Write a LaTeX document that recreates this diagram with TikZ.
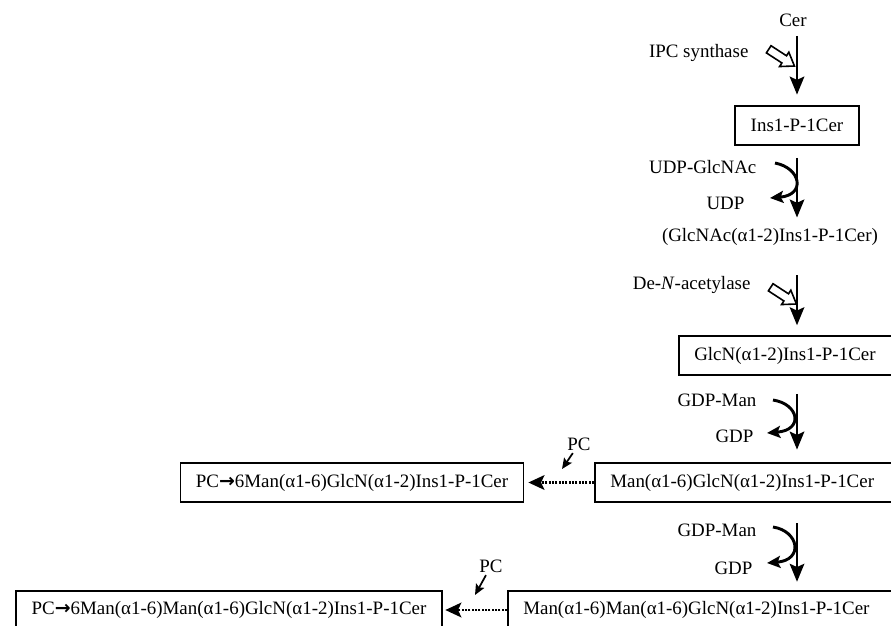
\documentclass[tikz,border=0pt]{standalone}
\usepackage{fontspec}
\setmainfont{Liberation Serif}
\newfontfamily\arrowfont{DejaVu Sans}
\usetikzlibrary{arrows.meta, shapes.arrows, calc}

\begin{document}
\begin{tikzpicture}
[x=0.75pt, y=-0.75pt,
every node/.style={font=\fontsize{14.2pt}{17pt}\selectfont},
cmpd/.style={inner sep=1pt},
species/.style={rectangle, draw=black, line width=1.4pt, inner xsep=11.5pt, minimum height=29pt},
openbox/.style={species, anchor=west, text width=300pt, align=left},
reaction/.style={line width=1.5pt, -{Stealth[length=13.5pt, width=11pt, inset=2.5pt]}},
cofactor/.style={line width=2.2pt, -{Stealth[length=10pt, width=9pt, inset=2pt]}},
enzyme/.style={single arrow, draw=black, line width=1.2pt, inner sep=2.6pt, minimum height=23pt, single arrow head extend=3.2pt, single arrow tip angle=70},
transfer/.style={line width=1.7pt, dash pattern=on 1.4pt off 1.1pt, -{Stealth[length=12pt, width=11pt, inset=2.5pt]}},
donor/.style={line width=1.3pt, -{Stealth[length=8pt, width=7pt, inset=1.5pt]}}]

\useasboundingbox (0,0) rectangle (891,625);
\clip (0,0) rectangle (891,625);

\node[cmpd] (cer) at (793,20) {Cer};
\node[cmpd, anchor=east] (ipc) at (750,53) {IPC synthase};
\node[enzyme, rotate=-33] (ipcarr) at (779,56) {};
\node[species] (ins) at (797,125.5) {Ins1-P-1Cer};
\node[cmpd, anchor=east] (udpglc) at (758,167) {UDP-GlcNAc};
\node[cmpd, anchor=east] (udp) at (746,203) {UDP};
\node[cmpd] (glcnac) at (770,237) {(GlcNAc(α1-2)Ins1-P-1Cer)};
\node[cmpd, anchor=east] (deacet) at (752,285) {De-\textit{N}-acetylase};
\node[enzyme, rotate=-33] (deacarr) at (781,294) {};
\node[openbox] (glcn) at (678,355.5) {GlcN(α1-2)Ins1-P-1Cer};
\node[cmpd, anchor=east] (gdpman) at (758,400) {GDP-Man};
\node[cmpd, anchor=east] (gdp) at (755,436) {GDP};
\node[openbox] (man) at (594,482.5) {Man(α1-6)GlcN(α1-2)Ins1-P-1Cer};
\node[species] (pcman) at (352,482.5) {PC{\arrowfont\bfseries →}6Man(α1-6)GlcN(α1-2)Ins1-P-1Cer};
\node[cmpd] (pc) at (579,444) {PC};
\coordinate (pctip) at (562,469);
\node[cmpd, anchor=east] (gdpmantwo) at (758,530) {GDP-Man};
\node[cmpd, anchor=east] (gdptwo) at (754,568) {GDP};
\node[openbox] (mantwo) at (507,610) {Man(α1-6)Man(α1-6)GlcN(α1-2)Ins1-P-1Cer};
\node[species] (pcmantwo) at (229,610) {PC{\arrowfont\bfseries →}6Man(α1-6)Man(α1-6)GlcN(α1-2)Ins1-P-1Cer};
\node[cmpd] (pctwo) at (491,566) {PC};
\coordinate (pctwotip) at (475,595);

% main chain, all on the x of Ins1-P-1Cer
\draw[reaction, shorten <=6pt, shorten >=8pt] (cer.south -| ins.north) -- (ins.north);
\draw[reaction, shorten <=9pt, shorten >=7pt] (ins.south) -- (ins.south |- glcnac.north);
\draw[reaction, shorten <=21pt, shorten >=7.5pt] (glcnac.south -| ins.south) -- (glcn.north -| ins.south);
\draw[reaction, shorten <=13.5pt, shorten >=9.5pt] (glcn.south -| ins.south) -- (man.north -| ins.south);
\draw[reaction, shorten <=15.5pt, shorten >=6pt] (man.south -| ins.south) -- (mantwo.north -| ins.south);

\draw[cofactor] ($(udpglc.east)+(17,-4)$) .. controls +(26,5) and +(36,-3) .. ($(udp.east)+(24,-5)$);
\draw[cofactor] ($(gdpman.east)+(15,0)$) .. controls +(26,4) and +(37,-3) .. ($(gdp.east)+(12,-3)$);
\draw[cofactor] ($(gdpmantwo.east)+(15,-3)$) .. controls +(26,4) and +(37,-3) .. ($(gdptwo.east)+(13,-5)$);

\draw[transfer, shorten >=3pt] (man.west) -- (pcman.east);
\draw[transfer, shorten >=2pt] (mantwo.west) -- (pcmantwo.east);
\draw[donor, shorten <=1pt] (pc) -- (pctip);
\draw[donor, shorten <=1pt] (pctwo) -- (pctwotip);
\end{tikzpicture}
\end{document}
